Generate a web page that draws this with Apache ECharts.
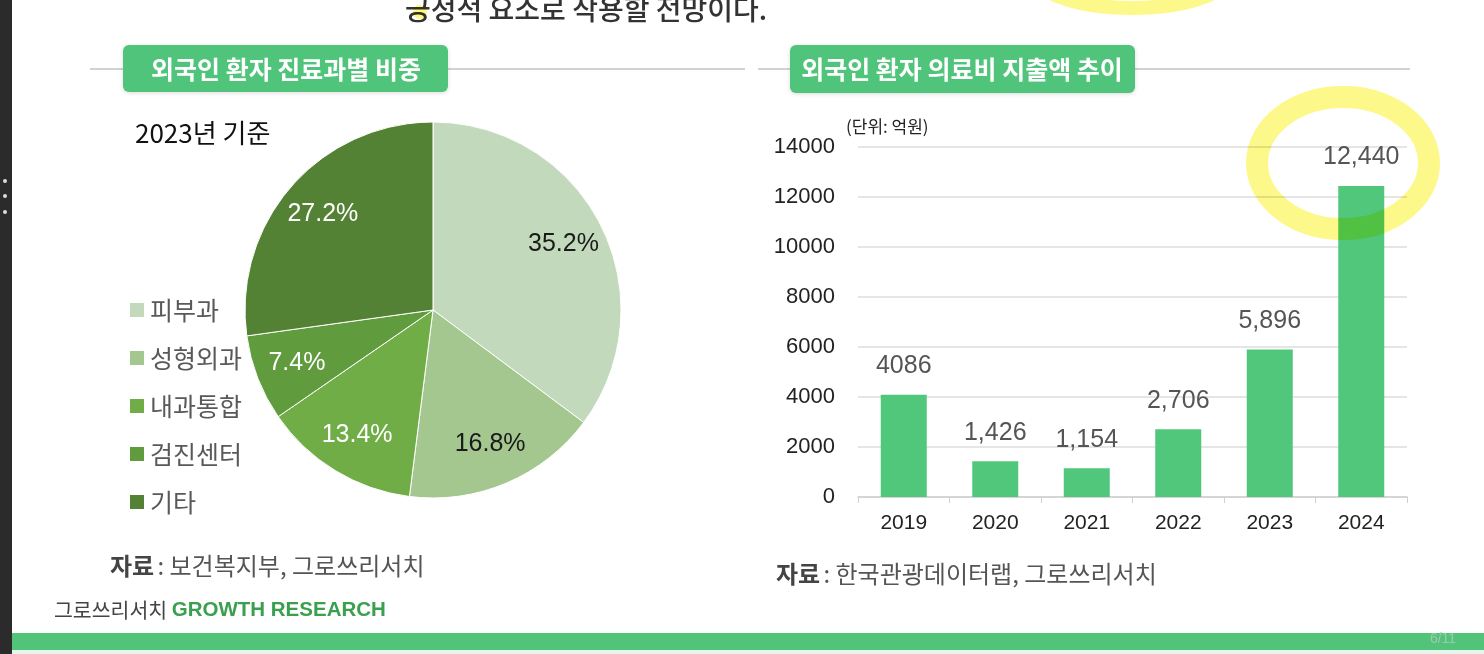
<!DOCTYPE html>
<html>
<head>
<meta charset="utf-8">
<script src="https://cdn.jsdelivr.net/npm/echarts@6/dist/echarts.min.js"></script>
<style>
  html, body { margin: 0; padding: 0; background: #fff; }
  #chart { width: 1484px; height: 654px; }
</style>
</head>
<body>
<div id="chart"></div>
<script>
// 진료과별 비중 (2023년 기준)
const departments = ["피부과", "성형외과", "내과통합", "검진센터", "기타"];
const departmentShare = [35.2, 16.8, 13.4, 7.4, 27.2];

// 의료비 지출액 (억원)
const years = ["2019", "2020", "2021", "2022", "2023", "2024"];
const spending = [4086, 1426, 1154, 2706, 5896, 12440];
const spendingLabels = ["4086", "1,426", "1,154", "2,706", "5,896", "12,440"];

const pieColors = ["#c3d9bb", "#a3c78f", "#70ad47", "#609b3e", "#548235"];
const pieLabelColors = ["#1a1a1a", "#1a1a1a", "#fff", "#fff", "#fff"];

const KR = "'Noto Sans CJK KR', sans-serif";
const NUM = "'Liberation Sans', 'Noto Sans CJK KR', sans-serif";

const chart = echarts.init(document.getElementById("chart"));

const pieData = departments.map((name, i) => ({
    name: name,
    value: departmentShare[i],
    itemStyle: { color: pieColors[i] }
}));
const pieLabelData = departments.map((name, i) => ({
    name: name,
    value: departmentShare[i],
    label: { color: pieLabelColors[i] }
}));

const option = {
    animation: false,
    backgroundColor: "#fff",
    legend: {
        orient: "vertical",
        left: 128,
        top: 296,
        padding: 0,
        data: departments,
        icon: "rect",
        itemWidth: 16,
        itemHeight: 16,
        itemGap: 20,
        textStyle: { fontFamily: KR, fontSize: 25, lineHeight: 28, color: "#595959" }
    },
    grid: { left: 858, right: 77, top: 147, bottom: 157 },
    xAxis: {
        type: "category",
        data: years,
        axisLine: { lineStyle: { color: "#d0d0d0", width: 1.5 } },
        axisTick: { show: true, length: 6, lineStyle: { color: "#d0d0d0" } },
        axisLabel: { fontFamily: NUM, fontSize: 21, color: "#222", margin: 16 }
    },
    yAxis: {
        type: "value",
        min: 0,
        max: 14000,
        interval: 2000,
        axisLine: { show: false },
        axisTick: { show: false },
        splitLine: { lineStyle: { color: "#dcdcdc", width: 1.5 } },
        axisLabel: { fontFamily: NUM, fontSize: 22, color: "#222", margin: 23, formatter: v => String(v) }
    },
    series: [
        {
            type: "pie",
            center: [433, 310],
            radius: [0, 188],
            startAngle: 90,
            clockwise: true,
            label: { show: false },
            labelLine: { show: false },
            itemStyle: { borderColor: "#fff", borderWidth: 1 },
            data: pieData
        },
        {
            type: "pie",
            center: [433, 310],
            radius: [98, 188],
            startAngle: 90,
            clockwise: true,
            silent: true,
            legendHoverLink: false,
            itemStyle: { color: "rgba(0,0,0,0)" },
            label: {
                show: true,
                position: "inside",
                fontFamily: NUM,
                fontSize: 25,
                formatter: p => p.value.toFixed(1) + "%"
            },
            labelLine: { show: false },
            data: pieLabelData
        },
        {
            type: "bar",
            data: spending,
            barWidth: 46,
            itemStyle: { color: "#50c77a" },
            label: {
                show: true,
                position: "top",
                distance: 16,
                fontFamily: NUM,
                fontSize: 25,
                color: "#555",
                formatter: p => spendingLabels[p.dataIndex]
            }
        }
    ],
    graphic: [
        // 왼쪽 검은 띠
        { type: "rect", shape: { x: 0, y: 0, width: 12, height: 654 }, style: { fill: "#2b2b2b" } },
        { type: "circle", shape: { cx: 5, cy: 181, r: 2 }, style: { fill: "#ddd" } },
        { type: "circle", shape: { cx: 5, cy: 196, r: 2 }, style: { fill: "#ddd" } },
        { type: "circle", shape: { cx: 5, cy: 212, r: 2 }, style: { fill: "#ddd" } },
        // 상단 본문 잘린 문장
        {
            type: "text", x: 405, y: 9,
            style: { text: "긍정적 요소로 작용할 전망이다.", font: "500 28px " + KR, fill: "#333", verticalAlign: "middle" }
        },
        // 구분선
        { type: "line", shape: { x1: 90, y1: 69, x2: 745, y2: 69 }, style: { stroke: "#d2d2d2", lineWidth: 2 } },
        { type: "line", shape: { x1: 758, y1: 69, x2: 1410, y2: 69 }, style: { stroke: "#d2d2d2", lineWidth: 2 } },
        // 제목 상자
        {
            type: "rect", shape: { x: 123, y: 45, width: 325, height: 47, r: 6 },
            style: { fill: "#4fc47a", shadowBlur: 4, shadowColor: "rgba(0,0,0,0.15)", shadowOffsetY: 1 }
        },
        {
            type: "text", x: 286, y: 69,
            style: { text: "외국인 환자 진료과별 비중", font: "bold 25px " + KR, fill: "#fff", align: "center", verticalAlign: "middle" }
        },
        {
            type: "rect", shape: { x: 790, y: 45, width: 345, height: 48, r: 6 },
            style: { fill: "#4fc47a", shadowBlur: 4, shadowColor: "rgba(0,0,0,0.15)", shadowOffsetY: 1 }
        },
        {
            type: "text", x: 962, y: 69,
            style: { text: "외국인 환자 의료비 지출액 추이", font: "bold 25px " + KR, fill: "#fff", align: "center", verticalAlign: "middle" }
        },
        // 기준 연도
        {
            type: "text", x: 135, y: 133,
            style: { text: "2023년 기준", font: "26px " + KR, fill: "#111", verticalAlign: "middle" }
        },
        // 단위
        {
            type: "text", x: 846, y: 127,
            style: { text: "(단위: 억원)", font: "17px " + KR, fill: "#222", verticalAlign: "middle" }
        },
        // 자료 출처
        {
            type: "text", x: 110, y: 566,
            style: {
                text: "{b|자료} {n|: 보건복지부, 그로쓰리서치}",
                verticalAlign: "middle",
                rich: {
                    b: { font: "bold 24px " + KR, fill: "#444" },
                    n: { font: "24px " + KR, fill: "#555" }
                }
            }
        },
        {
            type: "text", x: 776, y: 574,
            style: {
                text: "{b|자료} {n|: 한국관광데이터랩, 그로쓰리서치}",
                verticalAlign: "middle",
                rich: {
                    b: { font: "bold 24px " + KR, fill: "#444" },
                    n: { font: "24px " + KR, fill: "#555" }
                }
            }
        },
        // 하단 로고
        {
            type: "text", x: 54, y: 610,
            style: {
                text: "{k|그로쓰리서치 }{e|GROWTH RESEARCH}",
                verticalAlign: "middle",
                rich: {
                    k: { font: "20.5px " + KR, fill: "#444" },
                    e: { font: "bold 20.5px " + NUM, fill: "#3a9f4e" }
                }
            }
        },
        // 하단 녹색 띠
        { type: "rect", shape: { x: 12, y: 633, width: 1472, height: 17 }, style: { fill: "#52c47a" } },
        { type: "rect", shape: { x: 12, y: 650, width: 1472, height: 4 }, style: { fill: "#e6f6ec" } },
        {
            type: "text", x: 1443, y: 639,
            style: { text: "6/11", font: "14px " + NUM, fill: "#9cc9ad", align: "center", verticalAlign: "middle" }
        },
        // 형광펜 표시
        {
            type: "ellipse", z: 100,
            shape: { cx: 1343, cy: 163, rx: 86, ry: 66 },
            style: { fill: "none", stroke: "#fdf88a", lineWidth: 22, blend: "multiply" }
        },
        {
            type: "ellipse", z: 100,
            shape: { cx: 1132, cy: -28, rx: 100, ry: 36 },
            style: { fill: "none", stroke: "#fdf88a", lineWidth: 14, blend: "multiply" }
        },
        {
            type: "circle", z: 100,
            shape: { cx: 420, cy: 12, r: 7 },
            style: { fill: "#fdf88a", blend: "multiply" }
        }
    ]
};

chart.setOption(option);
</script>
</body>
</html>
